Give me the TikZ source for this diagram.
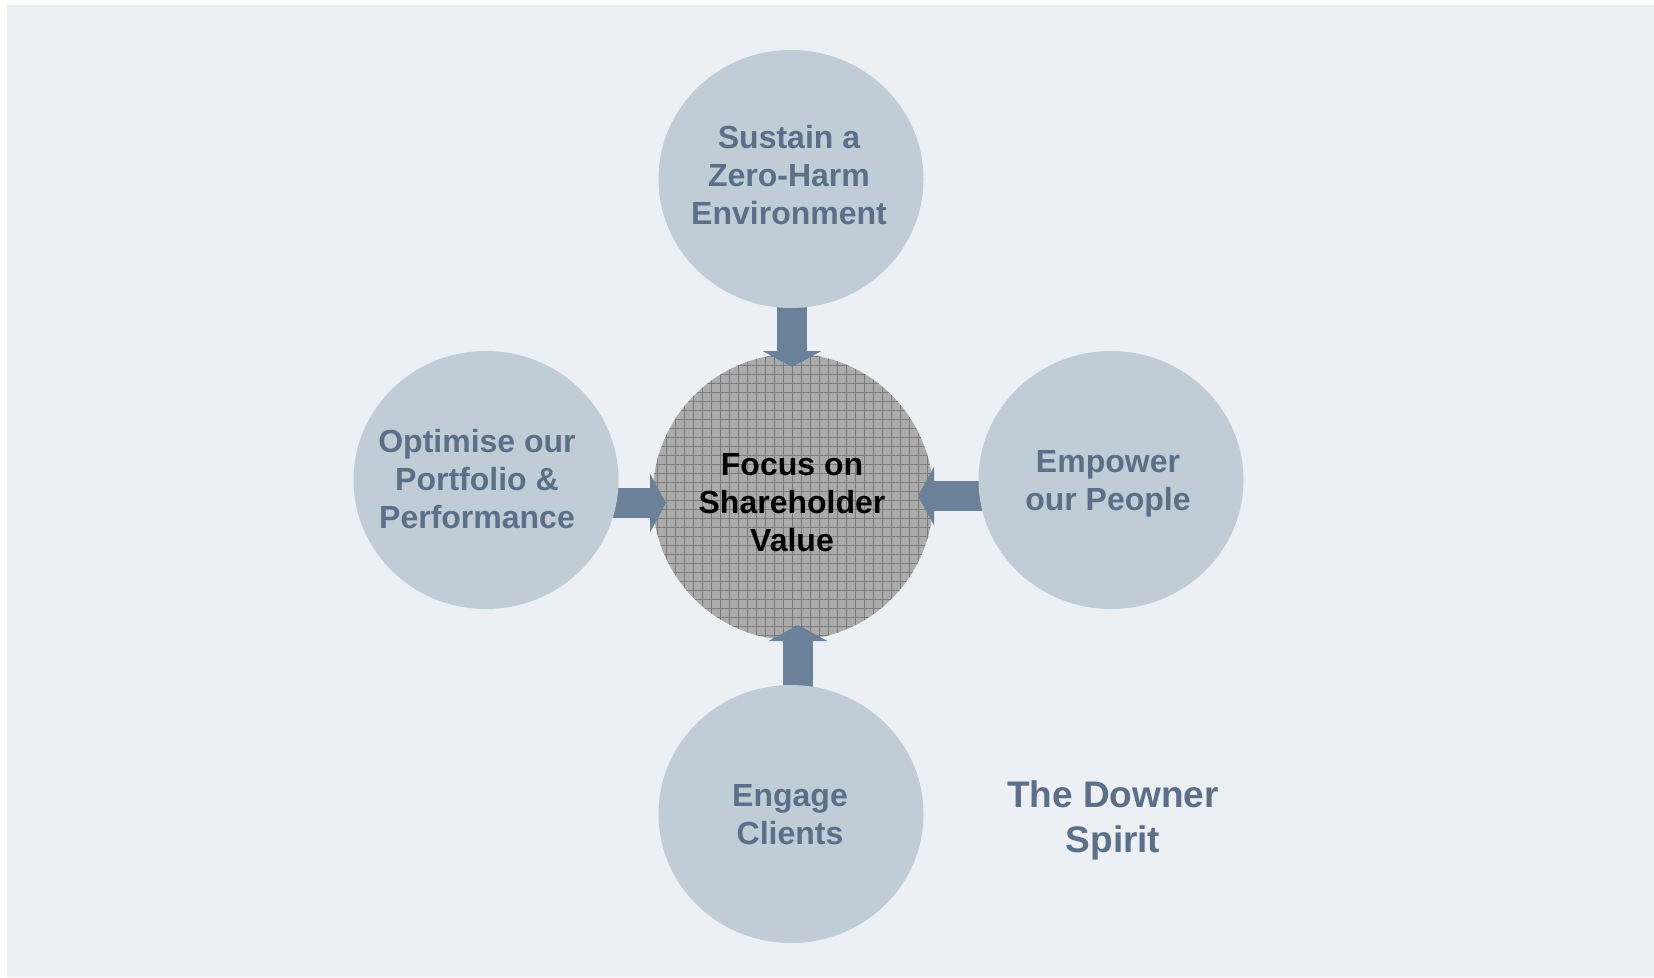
\documentclass[tikz,border=0pt]{standalone}
\usepackage{fontspec}
\setmainfont{Liberation Sans}
\usetikzlibrary{arrows.meta,patterns.meta,shapes.geometric}
\definecolor{bgc}{HTML}{ECF0F5}
\definecolor{circ}{HTML}{C0CCD6}
\definecolor{ctext}{HTML}{5B7088}
\definecolor{arr}{HTML}{6A8199}
\definecolor{midfill}{HTML}{ABABAB}
\definecolor{midgrid}{HTML}{7A7A7A}
\pgfdeclarelayer{bg}
\pgfdeclarelayer{arrowlayer}
\pgfsetlayers{bg,arrowlayer,main}
\begin{document}
\begin{tikzpicture}[x=1pt,y=-1pt,
  outer/.style={ellipse,fill=circ,inner sep=0pt,minimum width=265pt,minimum height=258pt},
  midc/.style={ellipse,fill=midfill,inner sep=0pt,minimum width=281pt,minimum height=286pt},
  circtext/.style={align=center,text=ctext,inner sep=0pt,font=\fontsize{32}{38}\selectfont\bfseries},
  midtext/.style={align=center,text=black,inner sep=0pt,font=\fontsize{32}{38}\selectfont\bfseries},
  spirittext/.style={align=center,text=ctext,inner sep=0pt,font=\fontsize{37}{45}\selectfont\bfseries},
  blockarrow/.style={draw=arr,line width=30pt,-{Triangle[width=58pt,length=16pt]}}]
\useasboundingbox (0,0) rectangle (1654,977);
\begin{pgfonlayer}{bg}
  \fill[bgc] (7,5) rectangle (1654,977);
  \node[midc] (mid) at (793,497) {};
  \fill[pattern={Hatch[angle=0,distance=9pt,line width=0.8pt]},pattern color=midgrid]
    (mid.center) ellipse [x radius=140.5pt,y radius=143pt];
\end{pgfonlayer}
\node[outer] (top) at (791,179) {};
\node[outer] (left) at (486,480) {};
\node[outer] (right) at (1111,480) {};
\node[outer] (bottom) at (791,814) {};
\coordinate (tipT) at (792,367);
\coordinate (tipL) at (666,503);
\coordinate (tipR) at (918,496);
\coordinate (tipB) at (798,625);
\begin{pgfonlayer}{arrowlayer}
  \draw[blockarrow] (tipT |- top.center) -- (tipT);
  \draw[blockarrow] (tipL -| left.center) -- (tipL);
  \draw[blockarrow] (tipR -| right.center) -- (tipR);
  \draw[blockarrow] (tipB |- bottom.center) -- (tipB);
\end{pgfonlayer}
\node[circtext] (topT) at (789,175) {Sustain a\\Zero-Harm\\Environment};
\node[circtext] (leftT) at (477,479) {Optimise our\\Portfolio \&\\Performance};
\node[circtext] (rightT) at (1108,484) {Empower\\our People};
\node[circtext] (bottomT) at (790,815) {Engage\\Clients};
\node[midtext] (midT) at (792,503) {Focus on\\Shareholder\\Value};
\node[spirittext] (spirit) at (1113,820) {The Downer\\Spirit};
\end{tikzpicture}
\end{document}
